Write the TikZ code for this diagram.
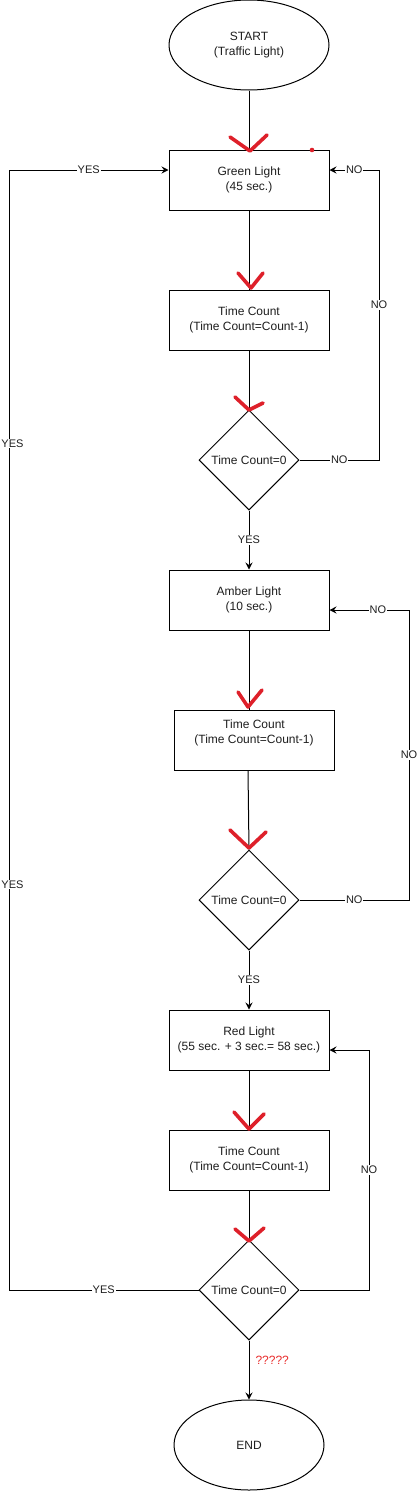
\documentclass[tikz,border=0pt]{standalone}
\usepackage{fontspec}
\setmainfont{Liberation Sans}
\usetikzlibrary{shapes.geometric,arrows.meta}
\definecolor{markred}{RGB}{222,32,42}
\definecolor{qred}{RGB}{232,44,44}
\definecolor{txt}{RGB}{30,30,30}
\begin{document}
\begin{tikzpicture}[x=1pt,y=-1pt, line width=1pt,
  font=\fontsize{12}{15}\selectfont, text=txt,
  box/.style={draw, minimum width=160pt, minimum height=60pt, inner sep=0pt, align=center},
  dec/.style={draw, diamond, minimum width=100pt, minimum height=100pt, inner sep=0pt},
  term/.style={draw, ellipse, inner sep=0pt, align=center},
  lbl/.style={fill=white, inner sep=0.8pt, font=\fontsize{11}{13}\selectfont},
  arr/.style={-{Stealth[length=7pt,width=7pt,inset=2.5pt]}},
  vmark/.style={draw=markred, line width=3.6pt, line cap=round, line join=round}]
\useasboundingbox (0,0) rectangle (418,1491);

% nodes
\node[term, minimum width=160pt, minimum height=90pt] (start) at (249,45) {START\\(Traffic Light)};
\node[box] (green) at (249,180) {Green Light\\(45 sec.)};
\node[box] (tc1) at (249,320) {Time Count\\(Time Count=Count-1)};
\node[dec] (d1) at (249,460) {Time Count=0};
\node[box] (amber) at (249,600) {Amber Light\\(10 sec.)};
\node[box] (tc2) at (254,740) {};
\node[align=center, inner sep=0pt] (tc2t) at (254,733) {Time Count\\(Time Count=Count-1)};
\node[dec] (d2) at (249,900) {Time Count=0};
\node[box] (red) at (249,1040) {Red Light\\(55 sec. + 3 sec.= 58 sec.)};
\node[box] (tc3) at (249,1160) {Time Count\\(Time Count=Count-1)};
\node[dec] (d3) at (249,1290) {Time Count=0};
\node[term, minimum width=150pt, minimum height=90pt] (end) at (249,1445) {END};

% bend points
\coordinate (n1a) at (379,460);
\coordinate (n1b) at (379,170);
\coordinate (n2a) at (409,900);
\coordinate (n2b) at (409,610);
\coordinate (n3a) at (369,1290);
\coordinate (n3b) at (369,1050);
\coordinate (y1a) at (9,1290);
\coordinate (y1b) at (9,170);

% main flow
\draw (start.south) -- (green.north);
\draw (green.south) -- (tc1.north);
\draw (tc1.south) -- (d1.north);
\draw[arr] (d1.south) -- node[lbl]{YES} (amber.north);
\draw (amber.south) -- (amber.south |- tc2.north);
\draw ([xshift=-6pt]tc2.south) -- (d2.north);
\draw[arr] (d2.south) -- node[lbl]{YES} (red.north);
\draw (red.south) -- (tc3.north);
\draw (tc3.south) -- (d3.north);
\draw[arr] (d3.south) -- (end.north);
\node[anchor=west, text=qred, inner sep=0pt] (qq) at (255,1360) {?????};

% NO loops
\draw[arr] (d1.east) -- node[lbl]{NO} (n1a) -- node[lbl, pos=0.535]{NO} (n1b)
  -- node[lbl]{NO} ([yshift=10pt]green.east);
\draw[arr] (d2.east) -- node[lbl]{NO} (n2a) -- node[lbl]{NO} (n2b)
  -- node[lbl, pos=0.39]{NO} ([yshift=-10pt]amber.east);
\draw[arr] (d3.east) -- (n3a) -- node[lbl]{NO} (n3b) -- ([yshift=-10pt]red.east);

% YES loop
\draw[arr] (d3.west) -- node[lbl]{YES} (y1a)
  -- node[lbl, pos=0.362, xshift=3.5pt]{YES} node[lbl, pos=0.756, xshift=3.5pt]{YES} (y1b)
  -- node[lbl]{YES} ([yshift=10pt]green.west);

% red hand-drawn marks
\draw[vmark] (230,137) -- (250,151) -- (267,135);
\fill[markred] (312,150) circle (2.3pt);
\draw[vmark] (238,273) -- (251,288) -- (263,273);
\draw[vmark] (235,397) -- (249,410) -- (263,403);
\draw[vmark] (238,692) -- (248,707) -- (262,690);
\draw[vmark] (230,830) -- (249,848) -- (266,832);
\draw[vmark] (234,1112) -- (249,1129) -- (264,1114);
\draw[vmark] (235,1229) -- (249,1241) -- (264,1228);
\end{tikzpicture}
\end{document}
